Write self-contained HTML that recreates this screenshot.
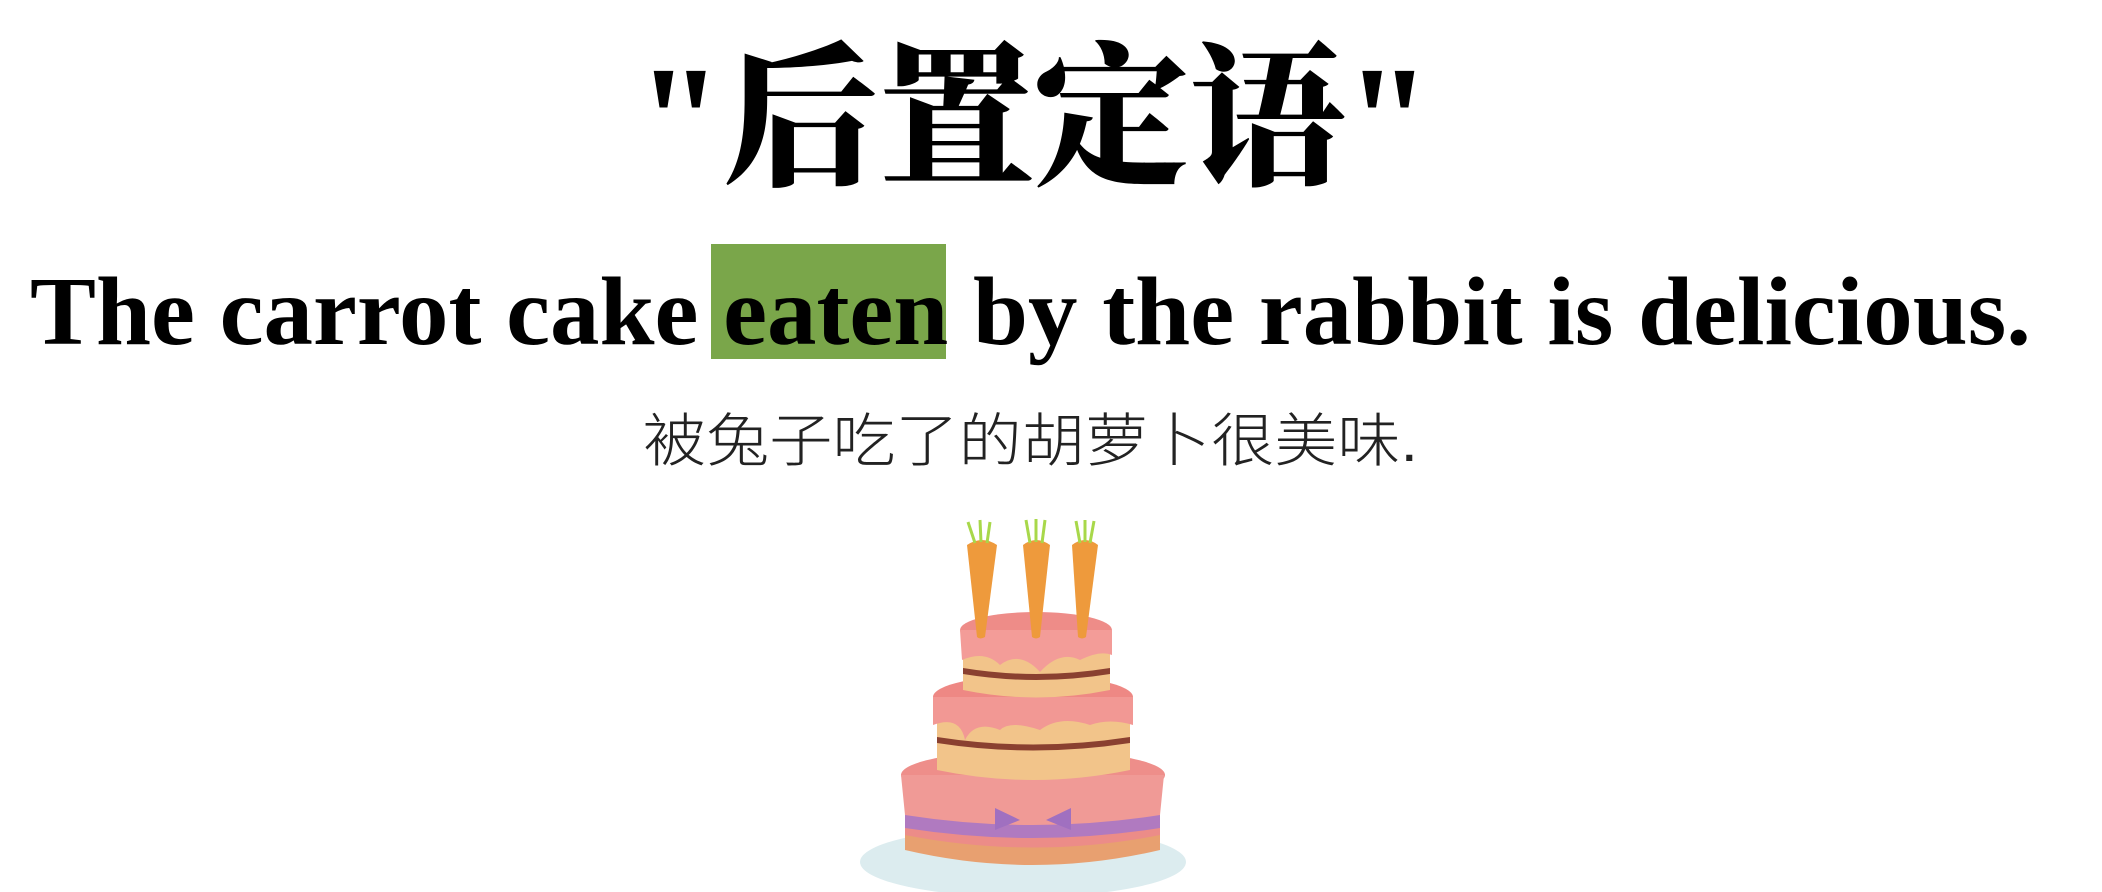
<!DOCTYPE html>
<html><head><meta charset="utf-8"><style>html,body{margin:0;padding:0;background:#fff;width:2102px;height:892px;overflow:hidden}</style></head>
<body>
<svg width="2102" height="892" viewBox="0 0 2102 892" xmlns="http://www.w3.org/2000/svg">
<rect width="2102" height="892" fill="#fff"/>
<text x="1034" y="173" text-anchor="middle" font-family="'Liberation Serif','Noto Serif CJK SC',serif" font-weight="900" font-size="156" textLength="795" lengthAdjust="spacingAndGlyphs">"后置定语"</text>
<rect x="711" y="244" width="235" height="115" fill="#7aa64a"/>
<text x="30" y="344" font-family="'Liberation Serif',serif" font-weight="bold" font-size="98" textLength="2001" lengthAdjust="spacingAndGlyphs">The carrot cake eaten by the rabbit is delicious.</text>
<text x="643" y="461" font-family="'Liberation Sans','Noto Sans CJK SC',sans-serif" font-weight="300" font-size="58" fill="#222" textLength="775" lengthAdjust="spacingAndGlyphs">被兔子吃了的胡萝卜很美味.</text>
<g>
<ellipse cx="1023" cy="862" rx="163" ry="35" fill="#dcecef"/>
<path d="M905 800 L905 850 Q1033 880 1160 850 L1160 800 Z" fill="#e8a070"/>
<path d="M905 790 L905 835 Q1033 860 1160 835 L1160 790 Z" fill="#ec8c88"/>
<path d="M905 810 Q1033 830 1160 810 L1160 828 Q1033 848 905 828 Z" fill="#b07ac0"/>
<ellipse cx="1033" cy="775" rx="132" ry="25" fill="#ee8e8a"/>
<path d="M901 775 L905 815 Q1033 835 1160 815 L1164 775 Z" fill="#f09a96"/>
<path d="M1020 820 l-25 -12 l0 22 z M1046 820 l25 -12 l0 22 z" fill="#a070c0"/>
<path d="M937 700 L937 770 Q1033 790 1130 770 L1130 700 Z" fill="#f2c48a"/>
<path d="M937 737 Q1033 752 1130 737 L1130 743 Q1033 758 937 743 Z" fill="#8a4030"/>
<ellipse cx="1033" cy="697" rx="100" ry="22" fill="#ee8884"/>
<path d="M933 697 L933 725 Q960 715 965 740 Q975 720 1000 730 Q1010 720 1040 730 Q1060 715 1090 725 Q1110 718 1133 725 L1133 697 Z" fill="#f29894"/>
<path d="M963 640 L963 690 Q1036 705 1110 690 L1110 640 Z" fill="#f2c48a"/>
<path d="M963 668 Q1036 680 1110 668 L1110 674 Q1036 686 963 674 Z" fill="#8a4030"/>
<ellipse cx="1036" cy="630" rx="76" ry="18" fill="#ee8c88"/>
<path d="M960 630 L962 660 Q985 650 1000 665 Q1020 650 1040 672 Q1060 650 1080 660 Q1100 650 1112 655 L1112 630 Z" fill="#f39c98"/>
<g fill="#ee9a3c">
<path d="M967 545 Q982 535 997 545 L985 637 Q980 640 977 637 Z"/>
<path d="M1023 545 Q1036 535 1050 545 L1040 637 Q1036 640 1032 637 Z"/>
<path d="M1072 545 Q1085 535 1098 545 L1086 637 Q1082 640 1078 637 Z"/>
</g>
<g stroke="#a8d84a" stroke-width="3">
<path d="M975 543 L968 522 M981 542 L980 520 M987 543 L990 522"/>
<path d="M1030 543 L1026 520 M1036 542 L1036 519 M1042 543 L1045 520"/>
<path d="M1080 543 L1076 521 M1085 542 L1085 520 M1090 543 L1094 521"/>
</g>
</g>
</svg>
</body></html>
